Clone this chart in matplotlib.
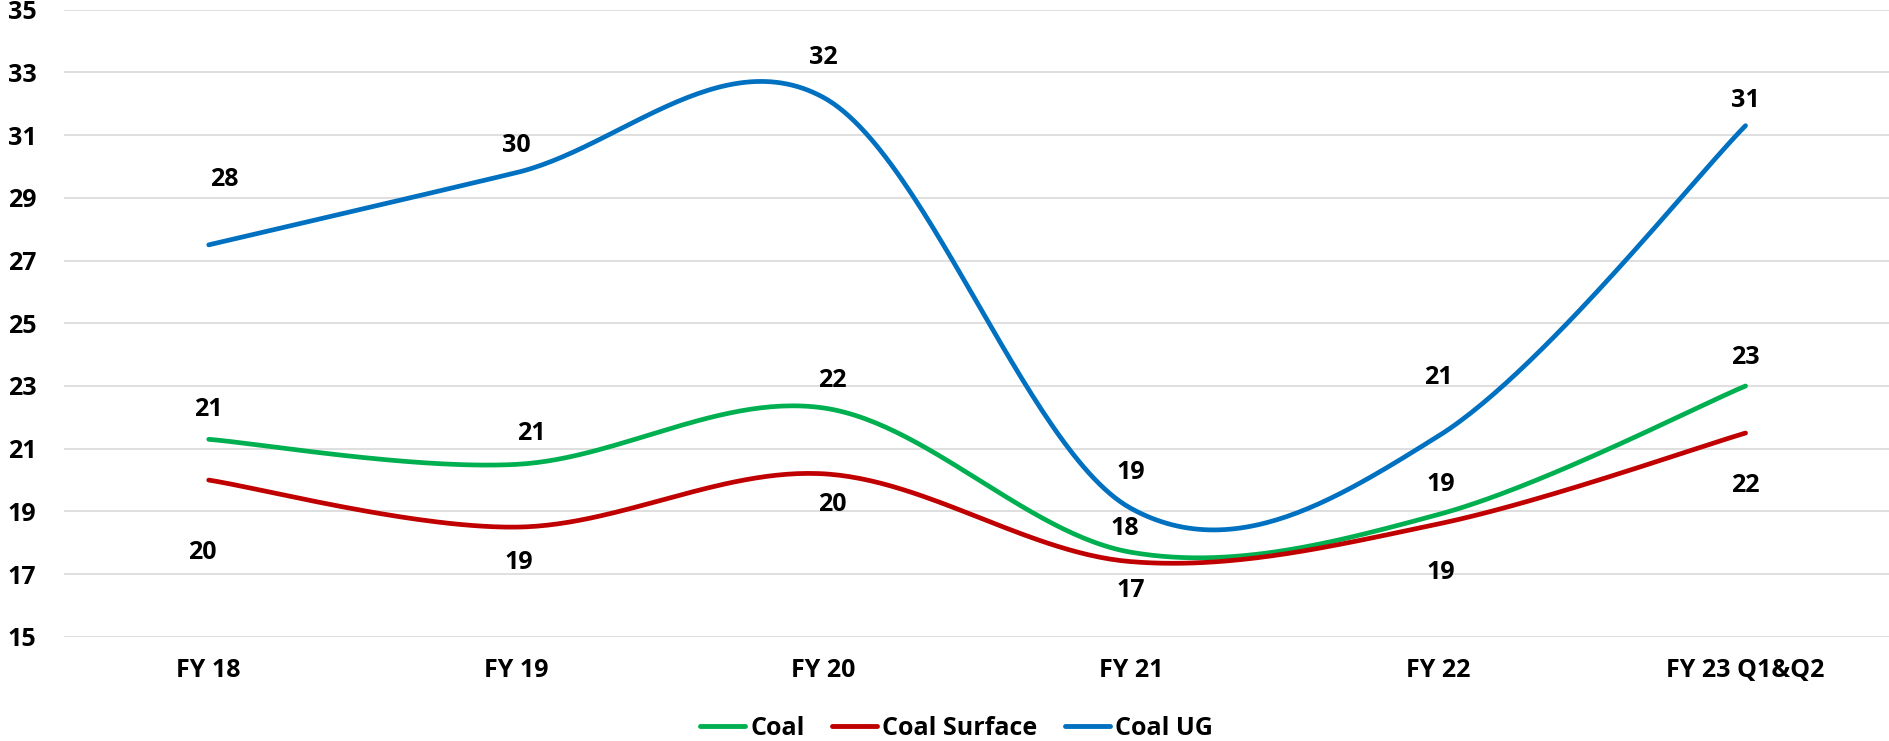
import numpy as np
import matplotlib
matplotlib.use('Agg')
import matplotlib.pyplot as plt

categories = ['FY 18', 'FY 19', 'FY 20', 'FY 21', 'FY 22', 'FY 23 Q1&Q2']
coal = [21.3, 20.5, 22.3, 17.7, 18.9, 23.0]
coal_surface = [20.0, 18.5, 20.2, 17.4, 18.6, 21.5]
coal_ug = [27.5, 29.8, 32.2, 19.1, 21.4, 31.3]

# manual label nudges (dx in categories, dy in axis units), as on the original
ug_lbl = [(0.05, 2.09), (0, 0.88), (0, 1.26), (0, 1.15), (0, 1.86), (0, 0.8)]
coal_lbl = [(0, 0.96), (0.05, 0.99), (0.03, 0.89), (-0.02, 0.77), (0.01, 0.96), (0, 0.92)]
surf_lbl = [(-0.02, -2.3), (0.01, -1.13), (0.03, -0.99), (0, -0.93), (0.01, -1.55), (0, -1.66)]

plt.rcParams['font.family'] = ['Open Sans', 'DejaVu Sans']
plt.rcParams['font.weight'] = 'bold'
FS = 18


def smooth(xs, ys, n=60):
    # Excel-style smoothed line: cubic bezier with control points at 1/6 of neighbour chord
    p = np.column_stack([xs, ys]).astype(float)
    ext = np.vstack([p[0], p, p[-1]])
    out = []
    t = np.linspace(0, 1, n)[:, None]
    for i in range(len(p) - 1):
        p0, p1, p2, p3 = ext[i], ext[i + 1], ext[i + 2], ext[i + 3]
        c1 = p1 + (p2 - p0) / 6
        c2 = p2 - (p3 - p1) / 6
        seg = ((1 - t) ** 3) * p1 + 3 * ((1 - t) ** 2) * t * c1 + 3 * (1 - t) * t ** 2 * c2 + t ** 3 * p2
        out.append(seg if i == 0 else seg[1:])
    out = np.vstack(out)
    return out[:, 0], out[:, 1]


fig = plt.figure(figsize=(18.9, 7.41), dpi=100)
ax = fig.add_axes([0.034, 0.1405, 0.966, 0.8465])

x = np.arange(len(categories))
series = [('Coal', coal, '#00B050', coal_lbl),
          ('Coal Surface', coal_surface, '#C00000', surf_lbl),
          ('Coal UG', coal_ug, '#0070C0', ug_lbl)]

for name, vals, col, lbl in series:
    sx, sy = smooth(x, vals)
    ax.plot(sx, sy, color=col, lw=3.4, solid_capstyle='round', label=name)
    for i, v in enumerate(vals):
        txt = str(int(np.floor(v + 0.5)))
        ax.text(x[i] + lbl[i][0], v + lbl[i][1], txt, ha='center', va='center',
                fontsize=FS, fontweight='bold', color='#000000')

ax.set_xlim(-0.47, 5.47)
ax.set_ylim(15, 35)
ax.set_yticks(np.arange(15, 36, 2))
ax.set_xticks(x)
ax.set_xticklabels(categories)
ax.grid(axis='y', color='#d9d9d9', lw=1.2)
ax.set_axisbelow(True)
for s in ax.spines.values():
    s.set_visible(False)
ax.tick_params(axis='both', length=0, labelsize=FS)
ax.tick_params(axis='x', pad=15)
ax.tick_params(axis='y', pad=20)
for lab in ax.get_xticklabels() + ax.get_yticklabels():
    lab.set_fontweight('bold')

leg = fig.legend(loc='center', bbox_to_anchor=(0.506, 0.017), ncol=3, frameon=False,
                 handlelength=1.8, handletextpad=0.2, columnspacing=1.1,
                 prop={'size': FS, 'weight': 'bold'})
for h in leg.get_lines():
    h.set_linewidth(3.5)

fig.savefig('out.png', dpi=100)
